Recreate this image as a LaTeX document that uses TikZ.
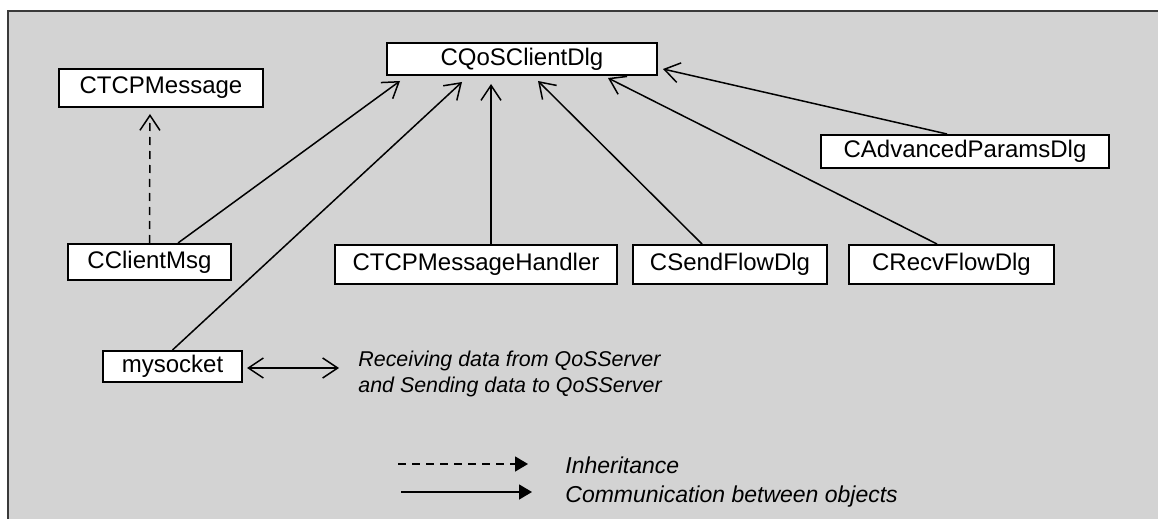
\documentclass[tikz,border=0pt]{standalone}
\usepackage{fontspec}
\setmainfont{Liberation Sans}
\usetikzlibrary{arrows.meta,positioning}
\definecolor{panelgrau}{HTML}{D3D3D3}
\definecolor{randgrau}{HTML}{3A3A3A}

\begin{document}
\begin{tikzpicture}[x=0.5pt,y=-0.5pt,
      klasse/.style={rectangle, draw=black, fill=white, line width=1pt, inner sep=0pt, font=\fontsize{12}{14}\selectfont},
      pfeil/.style={-{Straight Barb[length=7.5pt,width=10pt]}, line width=0.75pt},
      erbt/.style={pfeil, dash pattern=on 4pt off 3pt},
      legende/.style={-{Triangle[length=6.5pt,width=7.5pt]}, line width=0.75pt},
      notiz/.style={inner sep=0pt, align=left, font=\fontsize{10.7}{13}\selectfont\itshape}]

\clip (0,0) rectangle (1158,519);
\fill[panelgrau] (8,11) rectangle (1180,540);
\draw[randgrau, line width=0.8pt] (8,540) |- (1180,11);

\node[klasse, minimum width=135pt, minimum height=16pt] (c0) at (522,59) {CQoSClientDlg};
\node[klasse, minimum width=102pt, minimum height=19pt] (c1) at (161,88) {CTCPMessage};
\node[klasse, minimum width=144pt, minimum height=16.5pt] (c2) at (965,151.5) {CAdvancedParamsDlg};
\node[klasse, minimum width=81.5pt, minimum height=18pt] (c3) at (149.5,262) {CClientMsg};
\node[klasse, minimum width=141pt, minimum height=19.5pt] (c4) at (476,264.5) {CTCPMessageHandler};
\node[klasse, minimum width=97pt, minimum height=19.5pt] (c5) at (730,264.5) {CSendFlowDlg};
\node[klasse, minimum width=102.5pt, minimum height=19.5pt] (c6) at (951.5,264.5) {CRecvFlowDlg};
\node[klasse, minimum width=69.5pt, minimum height=15.5pt] (c7) at (172.5,366.5) {mysocket};

\node[notiz, anchor=north west] (n0) at (358,351) {Receiving data from QoSServer\\and Sending data to QoSServer};
\coordinate (n1) at (339,368);

\draw[pfeil] ([xshift=14.25pt]c3.north) -- ([xshift=-61pt,yshift=-2.5pt]c0.south);
\draw[pfeil] (c7.north) -- ([xshift=-30pt,yshift=-3pt]c0.south);
\draw[pfeil] ([xshift=7.5pt]c4.north) -- ([xshift=-15.5pt,yshift=-4pt]c0.south);
\draw[pfeil] ([xshift=-14pt]c5.north) -- ([xshift=8pt,yshift=-2.5pt]c0.south);
\draw[pfeil] ([xshift=-7.25pt]c6.north) -- ([xshift=43pt,yshift=-1pt]c0.south);
\draw[pfeil] ([xshift=-9pt]c2.north) -- ([xshift=2.5pt,yshift=-5pt]c0.east);
\draw[erbt] (c3.north) -- ([xshift=-5.5pt,yshift=-3pt]c1.south);
\draw[pfeil, {Straight Barb[length=7.5pt,width=10pt]}-{Straight Barb[length=7.5pt,width=10pt]}] ([xshift=2pt,yshift=-0.75pt]c7.east) -- (n1);

% legend
\node[anchor=base west, inner sep=0pt, font=\fontsize{11.5}{13}\selectfont\itshape] (l0) at (565,473) {Inheritance};
\node[anchor=base west, inner sep=0pt, font=\fontsize{11.5}{13}\selectfont\itshape] (l1) at (565,502) {Communication between objects};
\coordinate (l2) at (398,464);
\coordinate (l3) at (528,464);
\coordinate (l4) at (401,492);
\coordinate (l5) at (532,492);
\draw[legende, dash pattern=on 4pt off 3pt] (l2) -- (l3);
\draw[legende] (l4) -- (l5);

\end{tikzpicture}
\end{document}
